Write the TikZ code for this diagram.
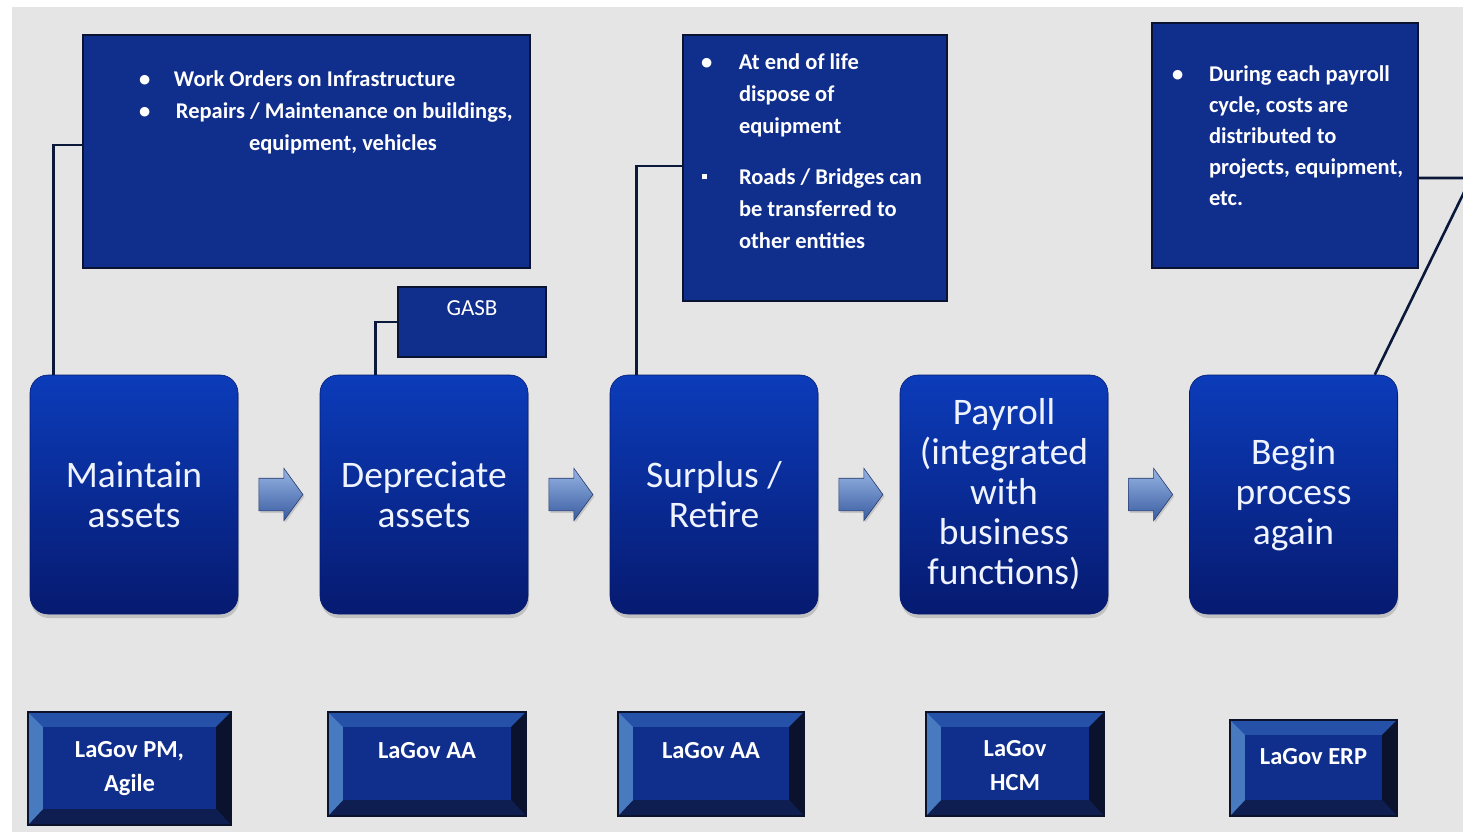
\documentclass[tikz,border=0pt]{standalone}
\usepackage{fontspec}
\setmainfont{Carlito}
\usetikzlibrary{calc,shapes.arrows,shadows}
\definecolor{bggray}{RGB}{229,229,229}
\definecolor{cfill}{RGB}{16,46,140}
\definecolor{cborder}{RGB}{10,20,50}
\definecolor{mtop}{RGB}{12,60,186}
\definecolor{mbot}{RGB}{6,26,112}
\definecolor{mtext}{RGB}{238,243,255}
\definecolor{conncol}{RGB}{10,24,58}
\definecolor{bvtop}{RGB}{37,82,168}
\definecolor{bvleft}{RGB}{72,122,192}
\definecolor{bvright}{RGB}{10,18,45}
\definecolor{bvbot}{RGB}{14,30,80}
\definecolor{arlight}{RGB}{150,180,228}
\definecolor{ardark}{RGB}{58,92,160}
\definecolor{ardraw}{RGB}{40,60,110}
\tikzset{
  mainbox/.style={rounded corners=18pt, minimum width=208pt, minimum height=239pt,
    inner sep=0pt, top color=mtop, bottom color=mbot, draw=mbot, line width=0.6pt,
    text=mtext, font=\fontsize{37.5}{40}\selectfont, align=center,
    drop shadow={opacity=0.35, shadow xshift=1pt, shadow yshift=-4pt}},
  callout/.style={fill=cfill, draw=cborder, line width=2pt, inner sep=0pt,
    text=white, font=\bfseries\fontsize{22.5}{32}\selectfont},
  botbox/.style={fill=cfill, inner sep=0pt},
  bt/.style={text=white, font=\bfseries\fontsize{24.5}{34}\selectfont, align=center, inner sep=0pt},
  conn/.style={draw=conncol, line width=2.6pt},
  flowarrow/.style={single arrow, minimum height=44pt, minimum width=52pt,
    single arrow head extend=10pt, single arrow tip angle=108, inner xsep=0pt, inner ysep=16pt,
    top color=arlight, bottom color=ardark, draw=ardraw, line width=0.6pt,
    drop shadow={opacity=0.3, shadow xshift=1.5pt, shadow yshift=-2pt}}
}
\newcommand\bevelbox[1]{%
  \fill[bvtop] (#1.north west) -- (#1.north east) -- ($(#1.north east)+(-15,15)$) -- ($(#1.north west)+(15,15)$) -- cycle;
  \fill[bvright] (#1.north east) -- (#1.south east) -- ($(#1.south east)+(-15,-16)$) -- ($(#1.north east)+(-15,15)$) -- cycle;
  \fill[bvbot] (#1.south west) -- (#1.south east) -- ($(#1.south east)+(-15,-16)$) -- ($(#1.south west)+(15,-16)$) -- cycle;
  \fill[bvleft] (#1.north west) -- (#1.south west) -- ($(#1.south west)+(15,-16)$) -- ($(#1.north west)+(15,15)$) -- cycle;
  \draw[bvright, line width=1.5pt] (#1.north west) rectangle (#1.south east);
}
\begin{document}
\begin{tikzpicture}[x=1pt,y=-1pt]
\clip (0,0) rectangle (1463,832);
\fill[white] (0,0) rectangle (1463,832);
\fill[bggray] (12,7) rectangle (1463,832);

% main process boxes
\node[mainbox] (m1) at (134,494.5) {Maintain\\assets};
\node[mainbox] (m2) at (424,494.5) {Depreciate\\assets};
\node[mainbox] (m3) at (714,494.5) {Surplus /\\Retire};
\node[mainbox] (m4) at (1004,494.5) {Payroll\\(integrated\\with\\business\\functions)};
\node[mainbox] (m5) at (1293.5,494.5) {Begin\\process\\again};

% arrows
\node[flowarrow, xshift=-4pt] (a1) at ($(m1.east)!0.5!(m2.west)$) {};
\node[flowarrow, xshift=-4pt] (a2) at ($(m2.east)!0.5!(m3.west)$) {};
\node[flowarrow, xshift=-4pt] (a3) at ($(m3.east)!0.5!(m4.west)$) {};
\node[flowarrow, xshift=-4pt] (a4) at ($(m4.east)!0.5!(m5.west)$) {};

% callouts
\node[callout, minimum width=447pt, minimum height=233pt] (cA) at (306.5,151.5) {%
\begin{minipage}[t][233pt][t]{447pt}\vspace*{29pt}\noindent
\strut\hspace*{56pt}\makebox[35pt][l]{\textbullet}Work Orders on Infrastructure\\
\hspace*{56pt}\makebox[37pt][l]{\textbullet}Repairs / Maintenance on buildings,\\
\hspace*{166pt}equipment, vehicles
\end{minipage}};
\node[callout, minimum width=148pt, minimum height=70pt, font=\fontsize{23}{26}\selectfont] (gasb) at (472,322) {%
\begin{minipage}[t][70pt][t]{148pt}\vspace*{14pt}\centering GASB\end{minipage}};
\node[callout, minimum width=264pt, minimum height=266pt] (cB) at (815,168) {%
\begin{minipage}[t][266pt][t]{264pt}\vspace*{12pt}\noindent
\strut\hspace*{18pt}\makebox[38pt][l]{\textbullet}At end of life\\
\hspace*{56pt}dispose of\\
\hspace*{56pt}equipment\\[19pt]
\hspace*{19pt}\makebox[37pt][l]{\rule[5pt]{5pt}{5pt}}Roads / Bridges can\\
\hspace*{56pt}be transferred to\\
\hspace*{56pt}other entities
\end{minipage}};
\node[callout, minimum width=266pt, minimum height=245pt, font=\bfseries\fontsize{22.5}{31}\selectfont] (cC) at (1285,145.5) {%
\begin{minipage}[t][245pt][t]{266pt}\vspace*{36.6pt}\noindent
\strut\hspace*{20pt}\makebox[37pt][l]{\textbullet}During each payroll\\
\hspace*{57pt}cycle, costs are\\
\hspace*{57pt}distributed to\\
\hspace*{57pt}projects, equipment,\\
\hspace*{57pt}etc.
\end{minipage}};

% connectors
\draw[conn] ([xshift=24pt]m1.north west) |- (cA.west |- 0,145);
\draw[conn] ([xshift=56pt]m2.north west) |- (gasb.west);
\draw[conn] ([xshift=27pt]m3.north west) |- (cB.west |- 0,166);
\coordinate (elbow) at (1471,178);
\draw[conn] (cC.east |- elbow) -- (elbow) -- ([xshift=-23pt]m5.north east);

% bottom system boxes
\node[botbox, minimum width=203pt, minimum height=113pt] (b1) at (129.5,768.5) {};
\bevelbox{b1}
\node[bt] (t1) at (b1.center) {LaGov PM,\\Agile};
\node[botbox, minimum width=198pt, minimum height=104pt] (b2) at (427,764) {};
\bevelbox{b2}
\node[bt] (t2) at ($(b2.north)+(0,39)$) {LaGov AA};
\node[botbox, minimum width=186pt, minimum height=104pt] (b3) at (711,764) {};
\bevelbox{b3}
\node[bt] (t3) at ($(b3.north)+(0,39)$) {LaGov AA};
\node[botbox, minimum width=178pt, minimum height=104pt] (b4) at (1015,764) {};
\bevelbox{b4}
\node[bt] (t4) at ($(b4.center)+(0,2)$) {LaGov\\HCM};
\node[botbox, minimum width=167pt, minimum height=96pt] (b5) at (1313.5,768) {};
\bevelbox{b5}
\node[bt] (t5) at ($(b5.north)+(0,37)$) {LaGov ERP};
\end{tikzpicture}
\end{document}
